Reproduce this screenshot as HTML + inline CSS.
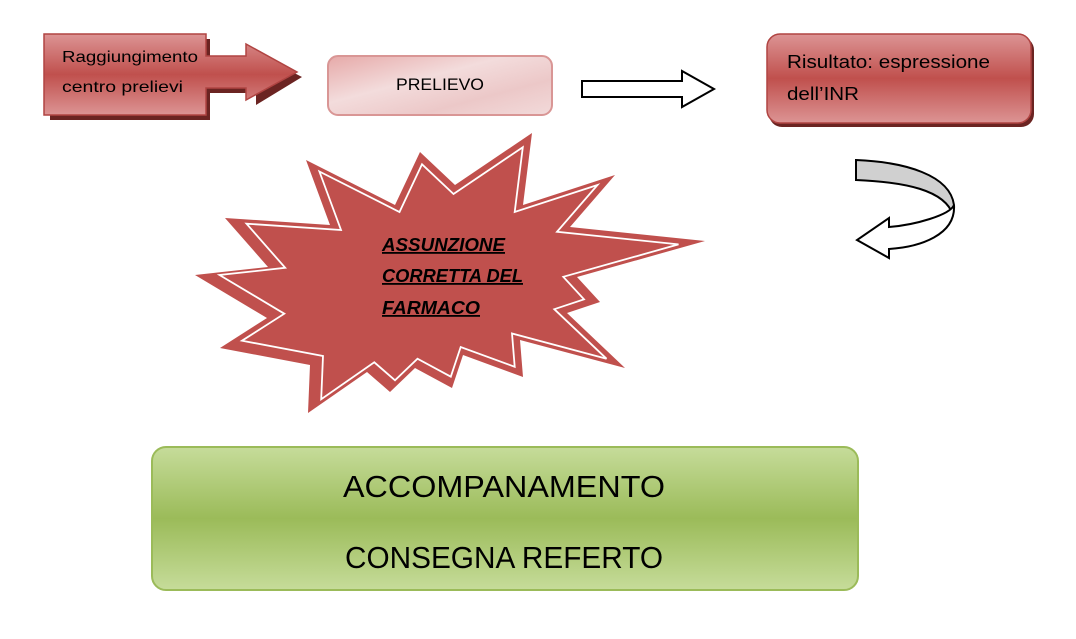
<!DOCTYPE html>
<html><head><style>
body{margin:0;width:1076px;height:634px;background:#fff;overflow:hidden;font-family:"Liberation Sans",sans-serif}
</style></head><body>
<svg width="1076" height="634" viewBox="0 0 1076 634" xmlns="http://www.w3.org/2000/svg">
<defs>
<linearGradient id="rg" x1="0" y1="0" x2="0" y2="1">
<stop offset="0" stop-color="#dc9494"/><stop offset="0.5" stop-color="#c0504d"/><stop offset="1" stop-color="#dc9494"/></linearGradient>
<linearGradient id="pg" x1="0" y1="0" x2="1" y2="1">
<stop offset="0" stop-color="#e6a9a8"/><stop offset="0.4" stop-color="#f3dcdc"/><stop offset="0.7" stop-color="#ecc8c8"/><stop offset="1" stop-color="#f2dada"/></linearGradient>
<linearGradient id="gg" x1="0" y1="0" x2="0" y2="1">
<stop offset="0" stop-color="#c6dc9a"/><stop offset="0.5" stop-color="#9bbb59"/><stop offset="1" stop-color="#c6dc9a"/></linearGradient>
</defs>
<path d="M48,37 H208 V59 H246 V47 L300,75 L254,103 V91 H208 V118 H48 Z" fill="#6b2422" transform="translate(2,2)"/>
<path d="M44,34 H206 V56 H246 V44 L297,72 L246,100 V88 H206 V115 H44 Z" fill="url(#rg)" stroke="#b04442" stroke-width="1.5"/>
<text x="62" y="62" font-size="16" textLength="136" lengthAdjust="spacingAndGlyphs">Raggiungimento</text>
<text x="62" y="92" font-size="16" textLength="121" lengthAdjust="spacingAndGlyphs">centro prelievi</text>
<rect x="328" y="56" width="224" height="59" rx="10" fill="url(#pg)" stroke="#d99695" stroke-width="2"/>
<text x="396" y="90" font-size="17" textLength="88" lengthAdjust="spacingAndGlyphs">PRELIEVO</text>
<path d="M582,81 H682 V71 L714,89 L682,107 V97 H582 Z" fill="#fff" stroke="#000" stroke-width="2"/>
<rect x="769" y="37" width="265" height="90" rx="13" fill="#6b2422"/>
<rect x="767" y="34" width="264" height="89" rx="13" fill="url(#rg)" stroke="#b04442" stroke-width="1.5"/>
<text x="787" y="68" font-size="18" textLength="203" lengthAdjust="spacingAndGlyphs">Risultato: espressione</text>
<text x="787" y="100" font-size="18" textLength="72" lengthAdjust="spacingAndGlyphs">dell’INR</text>
<path d="M856,160 C905,162 950,175 954,205 L953,215 C945,190 905,182 856,180 Z" fill="#d0d0d0" stroke="#000" stroke-width="2"/>
<path d="M954,205 C956,235 920,247 889,249 V258 L857,240 L889,218 V227 C915,225 950,215 954,205 Z" fill="#fff" stroke="#000" stroke-width="2"/>
<polygon points="306,160 395,205 420,152 455,185 532,133 523,205 615,175 570,227 705,241 577,277 600,302 567,313 625,368 520,340 523,377 463,355 452,388 415,368 390,392 367,372 308,413 310,365 220,348 267,318 195,275 268,267 225,218 330,225" fill="#c0504d"/>
<polygon points="306,160 395,205 420,152 455,185 532,133 523,205 615,175 570,227 705,241 577,277 600,302 567,313 625,368 520,340 523,377 463,355 452,388 415,368 390,392 367,372 308,413 310,365 220,348 267,318 195,275 268,267 225,218 330,225" fill="none" stroke="#fff" stroke-width="2" transform="translate(440,275) scale(0.9) translate(-440,-275)"/>
<g font-size="18" font-weight="bold" font-style="italic" text-decoration="underline">
<text x="382" y="251" textLength="123" lengthAdjust="spacingAndGlyphs">ASSUNZIONE</text>
<text x="382" y="282" textLength="141" lengthAdjust="spacingAndGlyphs">CORRETTA DEL</text>
<text x="382" y="314" textLength="98" lengthAdjust="spacingAndGlyphs">FARMACO</text>
</g>
<rect x="152" y="447" width="706" height="143" rx="14" fill="url(#gg)" stroke="#9bbb59" stroke-width="2"/>
<text x="343" y="497" font-size="31" textLength="322" lengthAdjust="spacingAndGlyphs">ACCOMPANAMENTO</text>
<text x="345" y="568" font-size="31" textLength="318" lengthAdjust="spacingAndGlyphs">CONSEGNA REFERTO</text>
</svg>
</body></html>
